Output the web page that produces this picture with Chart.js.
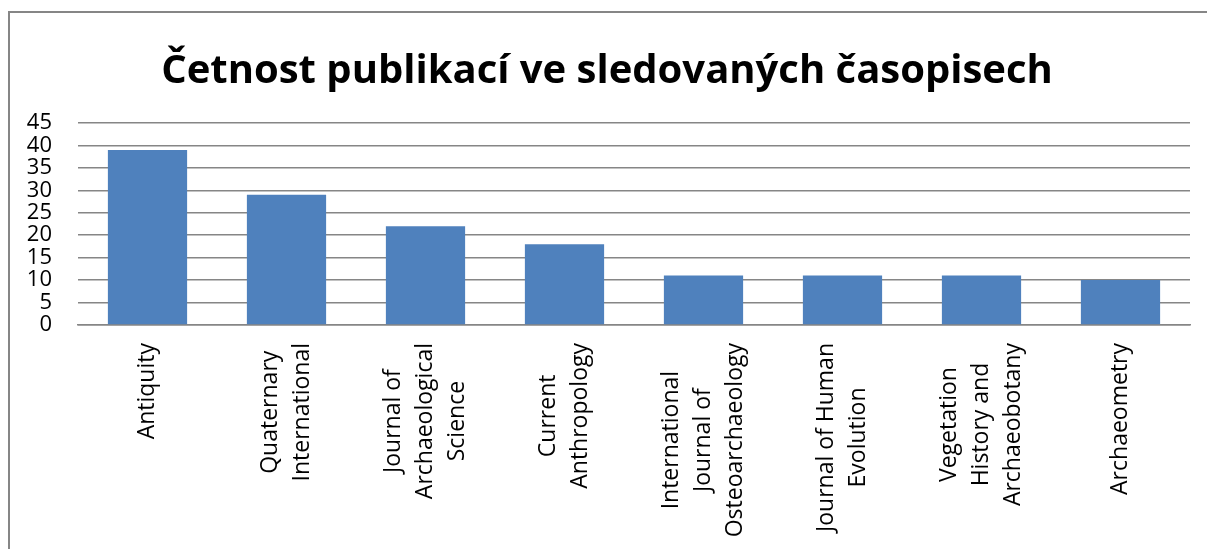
<!DOCTYPE html>
<html lang="cs">
<head>
<meta charset="utf-8">
<title>Četnost publikací</title>
<script src="https://cdn.jsdelivr.net/npm/chart.js@4.4.1/dist/chart.umd.min.js"></script>
<style>
  html, body { margin: 0; padding: 0; background: #fff; overflow: hidden; }
  #wrap { position: relative; width: 1207px; height: 549px; }
  #ramecek {
    position: absolute; left: 8px; top: 11px; width: 1400px; height: 800px;
    border: 2px solid #868686; box-sizing: border-box;
  }
  canvas { position: absolute; left: 0; top: 0; }
</style>
</head>
<body>
<div id="wrap">
  <div id="ramecek"></div>
  <canvas id="graf" width="1207" height="549"></canvas>
</div>
<script>
// názvy časopisů (řádky popisků tak, jak jsou zalomené v originále)
const casopisy = [
  ['Antiquity'],
  ['Quaternary', 'International'],
  ['Journal of', 'Archaeological', 'Science'],
  ['Current', 'Anthropology'],
  ['International', 'Journal of', 'Osteoarchaeology'],
  ['Journal of Human', 'Evolution'],
  ['Vegetation', 'History and', 'Archaeobotany'],
  ['Archaeometry']
];
// počet publikací
const pocty = [39, 29, 22, 18, 11, 11, 11, 10];
const osaYMax = 45;
const osaYKrok = 5;
const titulek = 'Četnost publikací ve sledovaných časopisech';

const pismo = "'Open Sans', 'DejaVu Sans', sans-serif";

// vlastní vykreslení svislých popisků osy X (řádky vycentrované jako v Excelu)
const popiskyX = {
  id: 'popiskyX',
  afterDraw(chart) {
    const ctx = chart.ctx;
    const osaX = chart.scales.x;
    const vel = 23;
    const radek = 32;
    ctx.save();
    ctx.font = vel + 'px ' + pismo;
    ctx.fillStyle = '#000';
    ctx.textAlign = 'center';
    ctx.textBaseline = 'middle';
    casopisy.forEach((radky, i) => {
      const stred = osaX.getPixelForValue(i);
      const sirka = Math.max(...radky.map(r => ctx.measureText(r).width));
      const yStred = osaX.top + 18 + sirka / 2;
      radky.forEach((r, j) => {
        const x = stred + (j - (radky.length - 1) / 2) * radek;
        ctx.save();
        ctx.translate(x, yStred);
        ctx.rotate(-Math.PI / 2);
        ctx.fillText(r, 0, 0);
        ctx.restore();
      });
    });
    ctx.restore();
  }
};

new Chart(document.getElementById('graf').getContext('2d'), {
  type: 'bar',
  data: {
    labels: casopisy.map(r => r.join(' ')),
    datasets: [{
      data: pocty,
      backgroundColor: '#4f81bd',
      borderWidth: 0,
      categoryPercentage: 1,
      barPercentage: 0.57
    }]
  },
  options: {
    responsive: false,
    animation: false,
    layout: { padding: { left: 24, right: 17, top: 0, bottom: 0 } },
    plugins: {
      legend: { display: false },
      tooltip: { enabled: false },
      title: {
        display: true,
        text: titulek,
        color: '#000',
        font: { family: pismo, size: 40, weight: 'bold', lineHeight: 1.2 },
        padding: { top: 48, bottom: 27 }
      }
    },
    scales: {
      x: {
        grid: { display: false, drawTicks: false },
        border: { display: true, color: '#868686', width: 1.5 },
        ticks: { display: false },
        afterFit(scale) { scale.height = 224; }
      },
      y: {
        min: 0,
        max: osaYMax,
        grid: { color: '#868686', lineWidth: 1.5, drawTicks: false },
        border: { display: false },
        ticks: {
          stepSize: osaYKrok,
          autoSkip: false,
          padding: 26,
          color: '#000',
          font: { family: pismo, size: 22 }
        },
        afterFit(scale) { scale.width = 54; }
      }
    }
  },
  plugins: [popiskyX]
});
</script>
</body>
</html>
